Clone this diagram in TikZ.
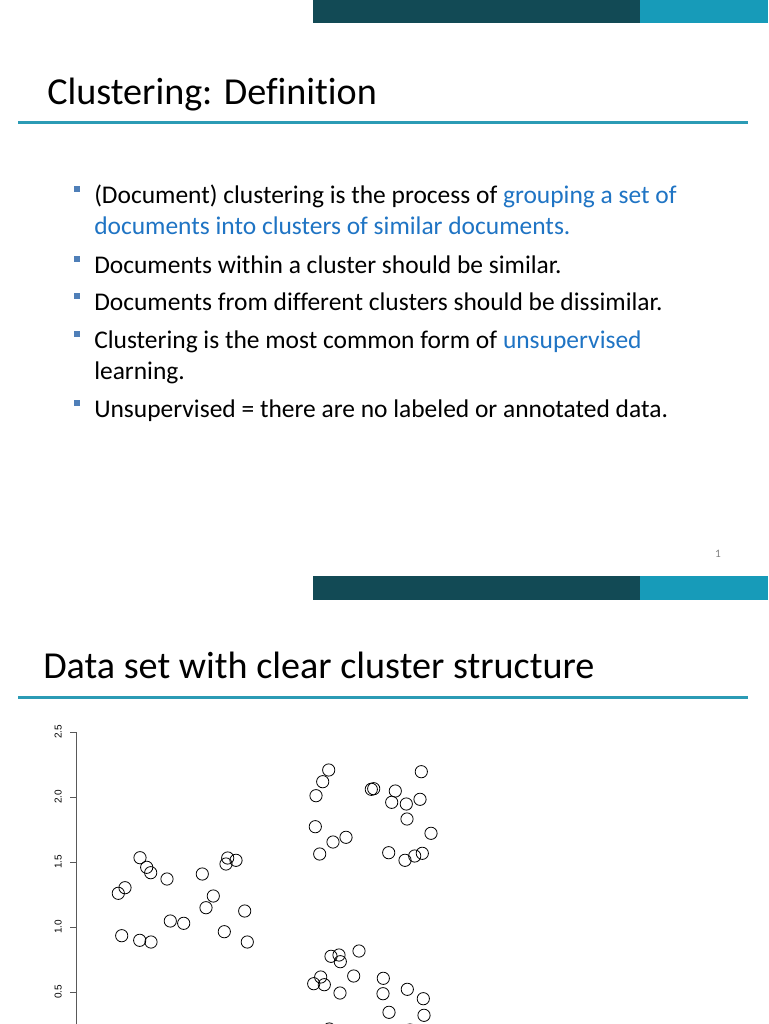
\documentclass[tikz,border=0pt]{standalone}
\usepackage{fontspec}
\setmainfont{Carlito}[Ligatures=NoCommon]
\setsansfont{Liberation Sans}
\definecolor{darkteal}{HTML}{124A55}
\definecolor{lightteal}{HTML}{179BB9}
\definecolor{rule}{HTML}{2B9BB5}
\definecolor{hl}{HTML}{1F74C4}
\definecolor{bul}{HTML}{4F7FB8}
\begin{document}
\begin{tikzpicture}[x=0.75pt,y=-0.75pt,
  title/.style={anchor=base west,inner sep=0,font=\fontsize{28.6}{34}\selectfont},
  btext/.style={anchor=base west,inner sep=0,font=\fontsize{19.1}{23}\selectfont},
  bmark/.style={fill=bul,minimum size=5pt,inner sep=0},
  pt/.style={draw=black,line width=0.6pt},
  tick/.style={anchor=south,rotate=90,inner sep=0,font=\sffamily\fontsize{7.5}{8}\selectfont}]
\useasboundingbox (0,0) rectangle (768,1024);
\fill[white] (0,0) rectangle (768,1024);
% slide 1
\fill[darkteal] (313,0) rectangle (640,23);
\fill[lightteal] (640,0) rectangle (768,23);
\node[title] (t1) at (47,104) {Clustering: Definition};
\fill[rule] (18,120.5) rectangle (748,123.5);
\foreach \y/\n in {203/a,273/b,310/c,348/d,417/e}{\node[bmark] (m\n) at (77,\y-14) {};}
\node[btext] (b1) at (94,203) {(Document) clustering is the process of \textcolor{hl}{grouping a set of}};
\node[btext] (b1b) at (94,234) {\textcolor{hl}{documents into clusters of similar documents.}};
\node[btext] (b2) at (94,273) {Documents within a cluster should be similar.};
\node[btext] (b3) at (94,310) {Documents from different clusters should be dissimilar.};
\node[btext] (b4) at (94,348) {Clustering is the most common form of \textcolor{hl}{unsupervised}};
\node[btext] (b4b) at (94,379) {learning.};
\node[btext] (b5) at (94,417) {Unsupervised = there are no labeled or annotated data.};
\node[anchor=base,inner sep=0,font=\fontsize{8.5}{9}\selectfont,text=gray] (pg) at (718,557) {1};
% slide 2
\fill[darkteal] (313,576) rectangle (640,600);
\fill[lightteal] (640,576) rectangle (768,600);
\node[title] (t2) at (43,678) {Data set with clear cluster structure};
\fill[rule] (18,695.5) rectangle (748,698.5);
% axis
\draw[gray!70!black,line width=0.6pt] (76.5,732) -- (76.5,1024);
\foreach \y/\l in {732/2.5,797/2.0,862/1.5,927/1.0,992/0.5}{
  \draw[gray!70!black,line width=0.6pt] (70,\y) -- (76.5,\y);
  \node[tick] (tk\l) at (62,\y) {\l};}
\begin{scope}
\clip (0,700) rectangle (768,1024);
\foreach \x/\y in {118.3/893.3,125/887.7,140/857.7,146.7/867.3,150.7/872.7,167/879,121.7/935.7,139.7/940.3,151/942,170.3/921,183.7/923.3,202.3/874,206/907.7,213.3/896,227.7/858,226/864,236/860.3,224.3/931.7,244.7/911,247.3/942,
328.7/770,322.7/781.7,316/795.7,315.3/826.7,319.7/854,333/842,346/837.3,371.3/789.3,373.7/788.7,395.3/791,391.7/802.3,406.3/804,421.3/771.7,420/799.3,407/819,431/833.3,388.7/852.7,405/860.3,414.7/856,422.3/853.3,
331/956.3,339/955,340.3/961.7,359/951,353.7/976,320.7/977,313.7/983.7,324.3/984.7,340/993,383.3/978.3,383/993.7,407.3/989.3,423.3/998.7,389/1012.3,424/1015.3,329.3/1029,410/1030}
  \draw[pt] (\x,\y) circle[radius=4.6pt];
\end{scope}
\end{tikzpicture}
\end{document}
